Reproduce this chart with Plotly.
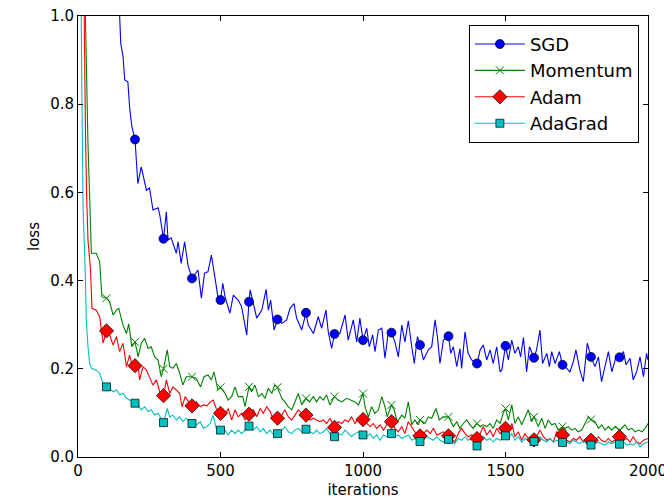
import plotly.graph_objects as go

# ---------------- data ----------------
sgd_iter = [0, 20, 40, 60, 80, 100, 120, 140, 146, 150, 158, 164, 175, 181, 189, 200, 210, 222, 240, 251, 263, 281, 287, 300,
            310, 316, 327, 345, 351, 362, 374, 386, 400, 421, 433, 444, 456, 468, 480, 491, 500, 508, 516, 533, 545, 562, 574,
            592, 600, 604, 615, 627, 645, 660, 668, 676, 688, 700, 715, 732, 744, 758, 767, 785, 800, 808, 826, 843, 855, 870,
            878, 890, 900, 919, 937, 948, 966, 978, 989, 1000, 1013, 1022, 1034, 1042, 1054, 1066, 1077, 1089, 1100, 1112, 1124,
            1136, 1147, 1159, 1171, 1180, 1191, 1200, 1212, 1229, 1241, 1253, 1261, 1270, 1282, 1300, 1308, 1317, 1329, 1340,
            1346, 1358, 1369, 1381, 1400, 1411, 1422, 1434, 1446, 1457, 1469, 1481, 1487, 1500, 1510, 1522, 1533, 1545, 1553,
            1563, 1574, 1584, 1600, 1609, 1621, 1630, 1645, 1654, 1662, 1674, 1689, 1700, 1715, 1726, 1738, 1747, 1761, 1773,
            1787, 1800, 1814, 1826, 1837, 1849, 1861, 1873, 1888, 1900, 1914, 1923, 1937, 1948, 1960, 1972, 1984, 1995, 2000]
sgd_loss = [2.30, 2.28, 2.24, 2.15, 1.98, 1.72, 1.42, 1.12, 1.0, 0.938, 0.908, 0.855, 0.851, 0.794, 0.749, 0.72, 0.62, 0.658,
            0.605, 0.61, 0.56, 0.565, 0.549, 0.495, 0.556, 0.492, 0.497, 0.462, 0.488, 0.439, 0.488, 0.435, 0.405, 0.424, 0.36,
            0.417, 0.42, 0.458, 0.409, 0.363, 0.356, 0.394, 0.363, 0.326, 0.367, 0.356, 0.341, 0.277, 0.352, 0.379, 0.349,
            0.315, 0.333, 0.38, 0.333, 0.356, 0.288, 0.312, 0.303, 0.311, 0.337, 0.348, 0.315, 0.288, 0.327, 0.299, 0.28,
            0.318, 0.292, 0.333, 0.284, 0.246, 0.279, 0.28, 0.322, 0.265, 0.311, 0.261, 0.315, 0.265, 0.292, 0.25, 0.277,
            0.239, 0.288, 0.292, 0.224, 0.284, 0.282, 0.261, 0.227, 0.299, 0.261, 0.309, 0.25, 0.212, 0.273, 0.254, 0.22,
            0.243, 0.25, 0.311, 0.273, 0.212, 0.265, 0.274, 0.235, 0.25, 0.205, 0.246, 0.201, 0.284, 0.235, 0.22, 0.212,
            0.243, 0.254, 0.22, 0.243, 0.212, 0.25, 0.193, 0.197, 0.252, 0.22, 0.265, 0.235, 0.25, 0.227, 0.271, 0.193, 0.25,
            0.225, 0.243, 0.288, 0.212, 0.235, 0.205, 0.239, 0.212, 0.239, 0.209, 0.201, 0.193, 0.216, 0.243, 0.197, 0.171,
            0.258, 0.227, 0.205, 0.227, 0.171, 0.209, 0.239, 0.193, 0.227, 0.226, 0.239, 0.209, 0.224, 0.175, 0.193, 0.227,
            0.182, 0.235, 0.22]

mom_iter = [0, 10, 18, 22, 26, 35, 41, 47, 64, 76, 84, 100, 111, 123, 135, 143, 158, 170, 178, 189, 200, 211, 222, 234, 246,
            257, 269, 281, 292, 300, 313, 322, 333, 345, 357, 368, 380, 400, 415, 430, 442, 456, 468, 477, 491, 500, 516, 527,
            539, 551, 562, 578, 586, 600, 609, 621, 633, 645, 656, 668, 680, 690, 700, 715, 726, 738, 750, 761, 773, 785, 800,
            812, 826, 837, 849, 861, 872, 884, 900, 913, 925, 943, 960, 972, 984, 1000, 1007, 1019, 1030, 1042, 1054, 1066,
            1077, 1085, 1100, 1109, 1120, 1136, 1147, 1159, 1171, 1182, 1194, 1200, 1218, 1229, 1241, 1256, 1268, 1280, 1300,
            1305, 1317, 1329, 1340, 1352, 1364, 1375, 1387, 1400, 1411, 1422, 1434, 1446, 1457, 1469, 1481, 1492, 1500, 1510,
            1522, 1533, 1545, 1557, 1568, 1580, 1592, 1600, 1615, 1627, 1639, 1650, 1662, 1674, 1685, 1700, 1709, 1720, 1732,
            1744, 1755, 1767, 1779, 1791, 1800, 1814, 1826, 1838, 1849, 1861, 1873, 1884, 1900, 1908, 1919, 1931, 1943, 1955,
            1967, 1979, 1990, 2000]
mom_loss = [2.30, 2.0, 1.5, 1.2, 1.0, 0.71, 0.56, 0.462, 0.462, 0.443, 0.363, 0.36, 0.352, 0.322, 0.333, 0.337, 0.299, 0.28,
            0.302, 0.25, 0.261, 0.227, 0.258, 0.269, 0.246, 0.25, 0.227, 0.22, 0.182, 0.2, 0.243, 0.205, 0.201, 0.212, 0.19,
            0.163, 0.182, 0.182, 0.178, 0.159, 0.182, 0.186, 0.175, 0.193, 0.152, 0.158, 0.144, 0.129, 0.137, 0.159, 0.137,
            0.137, 0.114, 0.159, 0.148, 0.163, 0.137, 0.144, 0.133, 0.156, 0.144, 0.163, 0.158, 0.133, 0.125, 0.114, 0.107,
            0.125, 0.144, 0.118, 0.133, 0.125, 0.137, 0.125, 0.137, 0.129, 0.141, 0.118, 0.137, 0.129, 0.125, 0.133, 0.129,
            0.125, 0.118, 0.144, 0.114, 0.091, 0.114, 0.099, 0.107, 0.137, 0.114, 0.091, 0.118, 0.107, 0.08, 0.095, 0.088,
            0.125, 0.073, 0.084, 0.073, 0.084, 0.076, 0.091, 0.088, 0.11, 0.084, 0.091, 0.091, 0.084, 0.069, 0.08, 0.065,
            0.076, 0.084, 0.073, 0.065, 0.076, 0.069, 0.073, 0.069, 0.076, 0.065, 0.084, 0.076, 0.099, 0.11, 0.084, 0.118,
            0.076, 0.091, 0.073, 0.088, 0.107, 0.08, 0.091, 0.069, 0.088, 0.065, 0.084, 0.073, 0.076, 0.061, 0.069, 0.065,
            0.069, 0.061, 0.065, 0.057, 0.061, 0.076, 0.091, 0.085, 0.08, 0.065, 0.073, 0.061, 0.069, 0.061, 0.069, 0.061,
            0.065, 0.073, 0.061, 0.065, 0.057, 0.061, 0.057, 0.065, 0.076]

adam_iter = [0, 8, 15, 20, 26, 30, 35, 44, 49, 64, 76, 88, 100, 111, 123, 135, 146, 158, 170, 181, 191, 200, 211, 216, 228,
             240, 251, 263, 275, 287, 300, 310, 322, 333, 345, 357, 365, 376, 388, 400, 415, 429, 440, 452, 464, 474, 485, 500,
             516, 527, 539, 551, 562, 574, 586, 600, 615, 627, 639, 650, 662, 674, 686, 700, 715, 726, 738, 750, 761, 773, 785,
             800, 814, 826, 837, 849, 861, 872, 884, 900, 913, 925, 937, 948, 960, 972, 984, 1000, 1013, 1025, 1036, 1048, 1060,
             1072, 1083, 1100, 1112, 1124, 1136, 1147, 1159, 1171, 1182, 1200, 1212, 1224, 1236, 1247, 1259, 1270, 1282, 1300,
             1311, 1322, 1334, 1346, 1358, 1369, 1381, 1400, 1411, 1422, 1434, 1446, 1457, 1469, 1481, 1500, 1510, 1522, 1533,
             1545, 1557, 1568, 1580, 1600, 1609, 1621, 1633, 1645, 1656, 1668, 1680, 1700, 1715, 1726, 1738, 1749, 1761, 1773,
             1785, 1800, 1814, 1826, 1837, 1849, 1861, 1873, 1884, 1900, 1914, 1926, 1937, 1948, 1960, 1972, 1984, 2000]
adam_loss = [2.30, 1.8, 1.3, 1.0, 0.75, 0.6, 0.492, 0.424, 0.337, 0.333, 0.318, 0.258, 0.286, 0.277, 0.254, 0.273, 0.239,
             0.258, 0.205, 0.231, 0.205, 0.207, 0.211, 0.175, 0.205, 0.197, 0.182, 0.163, 0.175, 0.148, 0.139, 0.175, 0.144,
             0.159, 0.152, 0.144, 0.114, 0.137, 0.125, 0.116, 0.125, 0.114, 0.118, 0.116, 0.125, 0.129, 0.11, 0.099, 0.095,
             0.11, 0.084, 0.107, 0.091, 0.099, 0.084, 0.097, 0.107, 0.091, 0.11, 0.099, 0.114, 0.103, 0.084, 0.088, 0.095,
             0.107, 0.091, 0.084, 0.095, 0.107, 0.099, 0.095, 0.084, 0.088, 0.084, 0.08, 0.084, 0.076, 0.088, 0.067, 0.08,
             0.076, 0.084, 0.08, 0.091, 0.076, 0.088, 0.085, 0.076, 0.069, 0.076, 0.065, 0.073, 0.061, 0.073, 0.08, 0.065,
             0.057, 0.069, 0.053, 0.08, 0.069, 0.057, 0.048, 0.053, 0.061, 0.053, 0.065, 0.05, 0.053, 0.057, 0.048, 0.042,
             0.034, 0.053, 0.065, 0.053, 0.046, 0.05, 0.042, 0.053, 0.069, 0.05, 0.061, 0.046, 0.065, 0.053, 0.065, 0.053,
             0.076, 0.046, 0.057, 0.038, 0.053, 0.042, 0.039, 0.046, 0.061, 0.046, 0.038, 0.042, 0.034, 0.057, 0.05, 0.038,
             0.034, 0.042, 0.038, 0.046, 0.034, 0.042, 0.038, 0.038, 0.046, 0.038, 0.034, 0.042, 0.034, 0.038, 0.046, 0.038,
             0.042, 0.034, 0.046, 0.034, 0.03, 0.038, 0.042]

ada_iter = [0, 5, 10, 14, 18, 26, 29, 35, 41, 47, 64, 76, 88, 100, 111, 123, 135, 146, 158, 170, 181, 200, 211, 222, 234, 246,
            257, 269, 281, 300, 313, 322, 333, 345, 357, 368, 380, 400, 415, 429, 440, 452, 464, 474, 485, 500, 516, 527, 539,
            551, 562, 574, 586, 600, 615, 627, 639, 650, 662, 674, 686, 700, 715, 726, 738, 750, 761, 773, 785, 800, 814, 826,
            837, 849, 861, 872, 884, 900, 913, 925, 937, 948, 960, 972, 984, 1000, 1013, 1025, 1036, 1048, 1060, 1072, 1083,
            1100, 1112, 1124, 1136, 1147, 1159, 1171, 1182, 1200, 1212, 1224, 1236, 1247, 1259, 1270, 1282, 1300, 1311, 1322,
            1334, 1346, 1358, 1369, 1381, 1400, 1411, 1422, 1434, 1446, 1457, 1469, 1481, 1500, 1510, 1522, 1533, 1545, 1557,
            1568, 1580, 1600, 1609, 1621, 1633, 1645, 1656, 1668, 1680, 1700, 1715, 1726, 1738, 1749, 1761, 1773, 1785, 1800,
            1814, 1826, 1837, 1849, 1861, 1873, 1884, 1900, 1914, 1926, 1937, 1948, 1960, 1972, 1984, 2000]
ada_loss = [2.30, 1.6, 1.1, 0.8, 0.56, 0.409, 0.31, 0.25, 0.212, 0.201, 0.197, 0.19, 0.167, 0.159, 0.155, 0.148, 0.152, 0.141,
            0.144, 0.133, 0.129, 0.122, 0.118, 0.107, 0.114, 0.103, 0.107, 0.095, 0.099, 0.078, 0.11, 0.091, 0.095, 0.084,
            0.091, 0.08, 0.088, 0.076, 0.073, 0.08, 0.065, 0.069, 0.076, 0.095, 0.065, 0.061, 0.061, 0.05, 0.061, 0.053, 0.061,
            0.053, 0.061, 0.07, 0.061, 0.069, 0.057, 0.065, 0.053, 0.061, 0.05, 0.053, 0.061, 0.069, 0.057, 0.053, 0.061,
            0.065, 0.057, 0.063, 0.057, 0.053, 0.061, 0.053, 0.057, 0.065, 0.053, 0.046, 0.053, 0.05, 0.061, 0.053, 0.046,
            0.053, 0.057, 0.05, 0.046, 0.053, 0.042, 0.05, 0.038, 0.05, 0.046, 0.053, 0.046, 0.05, 0.042, 0.046, 0.05, 0.038,
            0.042, 0.035, 0.038, 0.046, 0.042, 0.038, 0.046, 0.038, 0.034, 0.04, 0.038, 0.03, 0.042, 0.038, 0.046, 0.038,
            0.042, 0.025, 0.038, 0.046, 0.038, 0.042, 0.034, 0.042, 0.038, 0.048, 0.042, 0.053, 0.038, 0.046, 0.034, 0.042,
            0.038, 0.035, 0.038, 0.046, 0.038, 0.034, 0.042, 0.034, 0.038, 0.033, 0.034, 0.03, 0.038, 0.034, 0.03, 0.038,
            0.03, 0.027, 0.03, 0.034, 0.03, 0.027, 0.034, 0.03, 0.034, 0.029, 0.034, 0.027, 0.03, 0.027, 0.034, 0.023, 0.03,
            0.034]

series_names = ["SGD", "Momentum", "Adam", "AdaGrad"]
x_ticks = [0, 500, 1000, 1500, 2000]
y_ticks = [0.0, 0.2, 0.4, 0.6, 0.8, 1.0]
mark_every = 100

# ---------------- styling ----------------
FONT = "DejaVu Sans"
styles = {
    "SGD": dict(color="#0000ff", symbol="circle", size=9, mline=dict(color="#000000", width=0.7)),
    "Momentum": dict(color="#008000", symbol="x-thin-open", size=8, mline=dict(color="#008000", width=1)),
    "Adam": dict(color="#ff0000", symbol="diamond", size=11, mline=dict(color="#000000", width=0.7)),
    "AdaGrad": dict(color="#00bfbf", symbol="square", size=8, mline=dict(color="#000000", width=0.7)),
}
data = {
    "SGD": (sgd_iter, sgd_loss),
    "Momentum": (mom_iter, mom_loss),
    "Adam": (adam_iter, adam_loss),
    "AdaGrad": (ada_iter, ada_loss),
}

fig = go.Figure()
for name in series_names:
    xs, ys = data[name]
    st = styles[name]
    fig.add_trace(go.Scatter(x=xs, y=ys, mode="lines", line=dict(color=st["color"], width=1.1),
                             showlegend=False, hoverinfo="skip"))
for name in series_names:
    xs, ys = data[name]
    st = styles[name]
    mx = [x for x in xs if x % mark_every == 0 and 0 < x < 2000]
    my = [y for x, y in zip(xs, ys) if x % mark_every == 0 and 0 < x < 2000]
    fig.add_trace(go.Scatter(x=mx, y=my, mode="markers", showlegend=False,
                             marker=dict(color=st["color"], symbol=st["symbol"], size=st["size"], line=st["mline"])))
    # legend entry (line + marker)
    fig.add_trace(go.Scatter(x=[None], y=[None], mode="lines+markers", name=name,
                             line=dict(color=st["color"], width=1.1),
                             marker=dict(color=st["color"], symbol=st["symbol"], size=st["size"], line=st["mline"])))

axis_common = dict(showline=True, linecolor="#000000", linewidth=1, mirror="ticks", ticks="inside",
                   ticklen=5, tickwidth=1, tickcolor="#000000", showgrid=False, zeroline=False,
                   automargin=False, ticklabeloverflow="allow",
                   tickfont=dict(family=FONT, size=15, color="#000000"))

fig.update_layout(
    width=664, height=499,
    margin=dict(l=78, r=16, t=16, b=42),
    paper_bgcolor="#ffffff", plot_bgcolor="#ffffff",
    font=dict(family=FONT, size=15, color="#000000"),
    xaxis=dict(range=[0, 2000], tickvals=x_ticks, ticktext=[str(v) for v in x_ticks],
               title=dict(text="iterations", font=dict(family=FONT, size=15), standoff=6), **axis_common),
    yaxis=dict(range=[0, 1.0], tickvals=y_ticks, ticktext=[f"{v:.1f}" for v in y_ticks],
               title=dict(text="loss", font=dict(family=FONT, size=15), standoff=6), **axis_common),
    legend=dict(x=0.984, y=0.98, xanchor="right", yanchor="top", bgcolor="#ffffff",
                bordercolor="#000000", borderwidth=1, font=dict(family=FONT, size=18, color="#000000"),
                itemwidth=50, tracegroupgap=0),
    showlegend=True,
)

# remove the default page margin so the 664x499 figure fills the window exactly
post = ("document.documentElement.style.margin='0';document.body.style.margin='0';"
        "document.documentElement.style.overflow='hidden';document.body.style.overflow='hidden';")
fig.write_html("out.html", post_script=post, config={"displayModeBar": False})
